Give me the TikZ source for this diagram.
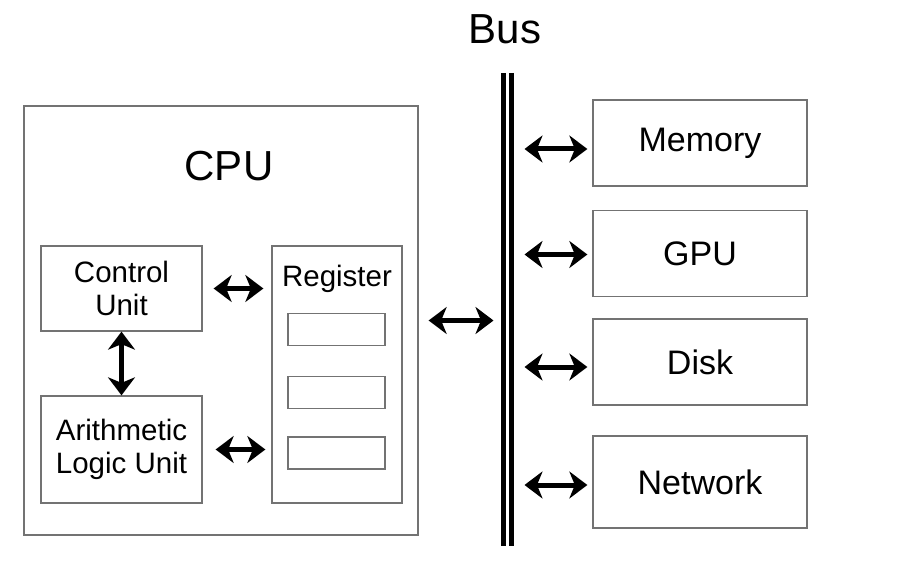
\documentclass[tikz,border=0pt]{standalone}
\usepackage{fontspec}
\setmainfont{Liberation Sans}
\usetikzlibrary{arrows.meta,calc}

\begin{document}
\begin{tikzpicture}[x=1pt,y=-1pt,
    box/.style={draw=black!55,line width=1.3pt,inner sep=0pt},
    small/.style={font=\fontsize{29.5}{33}\selectfont,align=center},
    medium/.style={font=\fontsize{34}{38}\selectfont},
    large/.style={font=\fontsize{42}{46}\selectfont},
    bi/.style={{Stealth[length=18pt,width=27pt,inset=5.5pt]}-{Stealth[length=18pt,width=27pt,inset=5.5pt]},line width=5pt}]
    \useasboundingbox(0,0)rectangle(908,588);
    % CPU part
    \node[box,minimum width=394pt,minimum height=429pt](cpu)at(221,320.5){};
    \node[large](cputxt)at(229,166){CPU};
    \node[box,small,minimum width=161pt,minimum height=85pt](cu)at(121.5,288.5){Control\\Unit};
    \node[box,small,minimum width=161pt,minimum height=107pt](alu)at(121.5,449.5){Arithmetic\\Logic Unit};
    \node[box,minimum width=130pt,minimum height=257pt](reg)at(337,374.5){};
    \node[small](regtxt)at(337,279){Register};
    \foreach \y/\n in {329.5/1,392.5/2,453/3}
      \node[box,minimum width=97pt,minimum height=32pt](slot\n)at(336.5,\y){};
    % bus
    \coordinate(bustop)at(507.5,73);
    \coordinate(busbot)at(507.5,546);
    \draw[line width=5.5pt,double distance=2.5pt](bustop)--(busbot);
    \node[large](bus)at(505,29){Bus};
    % devices
    \node[box,medium,minimum width=214pt,minimum height=86pt](mem)at(700,143){Memory};
    \node[box,medium,minimum width=214pt,minimum height=86pt](gpu)at(700,253.5){GPU};
    \node[box,medium,minimum width=214pt,minimum height=86pt](disk)at(700,362){Disk};
    \node[box,medium,minimum width=214pt,minimum height=92pt](net)at(700,482){Network};
    % arrows
    \draw[bi,shorten <=11pt,shorten >=8pt](cu.east)--(cu.east-|reg.west);
    \draw[bi,shorten <=13pt,shorten >=6pt](alu.east)--(alu.east-|reg.west);
    \draw[bi](cu.south)--(alu.north);
    \draw[bi,shorten <=10pt,shorten >=8pt]($(cpu.east)+(0,0)$)--($(cpu.east-|bustop)+(-6,0)$);
    \foreach \d/\dy in {mem/6,gpu/1,disk/5,net/3}
      \draw[bi,shorten <=11pt,shorten >=5pt]($(\d.west-|bustop)+(6,\dy)$)--($(\d.west)+(0,\dy)$);
\end{tikzpicture}
\end{document}
